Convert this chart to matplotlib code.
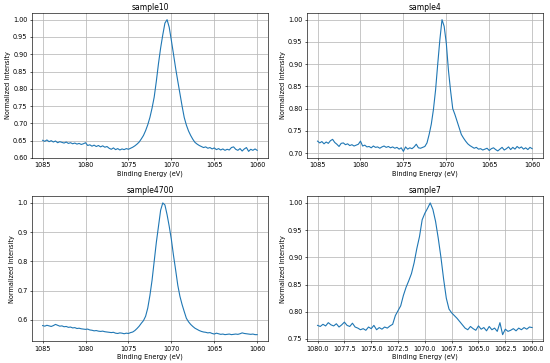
"""
Normalized XPS spectra for four samples, 2x2 grid.
Saves out.png (550x363).
"""

import numpy as np
import matplotlib
matplotlib.use("Agg")
import matplotlib.pyplot as plt
from matplotlib.ticker import MultipleLocator

# Binding energy scan grids (eV), 0.25 eV step, high -> low
energy_wide = np.arange(1085.0, 1059.99, -0.25)    # 101 points
energy_narrow = np.arange(1080.0, 1059.99, -0.25)  # 81 points

# values, rows of 2.5 eV
sample10 = [
    0.651, 0.648, 0.652, 0.647, 0.650, 0.646, 0.649, 0.644, 0.647, 0.645,
    0.643, 0.646, 0.642, 0.644, 0.641, 0.643, 0.640, 0.642, 0.639, 0.641,
    0.644, 0.636, 0.638, 0.634, 0.637, 0.633, 0.636, 0.632, 0.635, 0.631,
    0.633, 0.628, 0.625, 0.629, 0.624, 0.627, 0.623, 0.626, 0.624, 0.627,
    0.625, 0.628, 0.631, 0.635, 0.640, 0.646, 0.655, 0.665, 0.679, 0.696,
    0.717, 0.744, 0.776, 0.822, 0.873, 0.918, 0.956, 0.990, 1.000, 0.978,
    0.940, 0.900, 0.859, 0.822, 0.786, 0.750, 0.717, 0.695, 0.678, 0.665,
    0.654, 0.645, 0.640, 0.636, 0.633, 0.630, 0.632, 0.628, 0.630, 0.626,
    0.629, 0.624, 0.627, 0.623, 0.626, 0.622, 0.625, 0.623, 0.630, 0.632,
    0.625, 0.622, 0.627, 0.620, 0.626, 0.630, 0.619, 0.625, 0.622, 0.626,
    0.622,
]

sample4 = [
    0.727, 0.723, 0.726, 0.721, 0.725, 0.722, 0.728, 0.731, 0.724, 0.720,
    0.715, 0.722, 0.723, 0.719, 0.721, 0.717, 0.719, 0.716, 0.718, 0.720,
    0.727, 0.716, 0.718, 0.714, 0.715, 0.712, 0.716, 0.713, 0.714, 0.711,
    0.714, 0.716, 0.713, 0.715, 0.712, 0.714, 0.711, 0.713, 0.709, 0.712,
    0.704, 0.714, 0.709, 0.712, 0.710, 0.714, 0.720, 0.712, 0.711, 0.713,
    0.715, 0.723, 0.742, 0.765, 0.798, 0.842, 0.900, 0.955, 1.000, 0.985,
    0.947, 0.886, 0.840, 0.800, 0.787, 0.772, 0.757, 0.742, 0.734, 0.727,
    0.721, 0.717, 0.714, 0.711, 0.713, 0.709, 0.710, 0.707, 0.709, 0.711,
    0.706, 0.710, 0.712, 0.708, 0.705, 0.709, 0.713, 0.707, 0.710, 0.714,
    0.708, 0.713, 0.709, 0.715, 0.711, 0.714, 0.709, 0.712, 0.708, 0.713,
    0.710,
]

sample4700 = [
    0.580, 0.578, 0.581, 0.579, 0.577, 0.580, 0.584, 0.581, 0.578, 0.579,
    0.576, 0.577, 0.574, 0.575, 0.572, 0.573, 0.570, 0.571, 0.569, 0.568,
    0.567, 0.568, 0.565, 0.564, 0.562, 0.563, 0.561, 0.560, 0.561, 0.559,
    0.558, 0.557, 0.556, 0.557, 0.554, 0.553, 0.555, 0.554, 0.552, 0.554,
    0.553, 0.556, 0.558, 0.563, 0.570, 0.578, 0.588, 0.597, 0.612, 0.640,
    0.683, 0.735, 0.800, 0.865, 0.920, 0.975, 1.000, 0.993, 0.960, 0.920,
    0.875, 0.820, 0.770, 0.718, 0.680, 0.652, 0.628, 0.605, 0.593, 0.584,
    0.577, 0.571, 0.567, 0.563, 0.560, 0.558, 0.557, 0.555, 0.556, 0.553,
    0.551, 0.554, 0.552, 0.550, 0.551, 0.549, 0.550, 0.551, 0.549, 0.550,
    0.551, 0.550, 0.552, 0.555, 0.553, 0.552, 0.551, 0.550, 0.551, 0.549,
    0.549,
]

sample7 = [
    0.775, 0.773, 0.777, 0.774, 0.780, 0.776, 0.774, 0.778, 0.772, 0.776,
    0.781, 0.775, 0.773, 0.779, 0.772, 0.770, 0.767, 0.769, 0.766, 0.772,
    0.769, 0.775, 0.767, 0.771, 0.768, 0.772, 0.770, 0.774, 0.777, 0.793,
    0.802, 0.811, 0.830, 0.845, 0.857, 0.870, 0.890, 0.916, 0.938, 0.969,
    0.981, 0.990, 1.000, 0.988, 0.966, 0.935, 0.900, 0.860, 0.825, 0.805,
    0.798, 0.793, 0.788, 0.782, 0.776, 0.770, 0.767, 0.773, 0.769, 0.766,
    0.774, 0.768, 0.771, 0.765, 0.773, 0.767, 0.770, 0.764, 0.780, 0.758,
    0.768, 0.764, 0.766, 0.769, 0.765, 0.770, 0.767, 0.771, 0.768, 0.772,
    0.771,
]

panels = [
    ("sample10", energy_wide, sample10, 5, 0.05, "{x:.2f}"),
    ("sample4", energy_wide, sample4, 5, 0.05, "{x:.2f}"),
    ("sample4700", energy_wide, sample4700, 5, 0.1, "{x:.1f}"),
    ("sample7", energy_narrow, sample7, 2.5, 0.05, "{x:.2f}"),
]

plt.rcParams.update({
    "font.size": 4.7,
    "axes.linewidth": 0.45,
    "xtick.major.width": 0.45,
    "ytick.major.width": 0.45,
    "xtick.major.size": 1.6,
    "ytick.major.size": 1.6,
    "xtick.major.pad": 1.6,
    "ytick.major.pad": 1.6,
})

fig, axes = plt.subplots(2, 2, figsize=(5.5, 3.63), dpi=100)
fig.subplots_adjust(left=0.058, right=0.987, bottom=0.06, top=0.964,
                    wspace=0.165, hspace=0.265)

for ax, (name, x, y, xstep, ystep, yfmt) in zip(axes.flat, panels):
    ax.plot(x, y, color="#1f77b4", lw=0.8)
    ax.invert_xaxis()
    ax.xaxis.set_major_locator(MultipleLocator(xstep))
    ax.yaxis.set_major_locator(MultipleLocator(ystep))
    ax.yaxis.set_major_formatter(yfmt)
    if xstep < 5:
        ax.xaxis.set_major_formatter("{x:.1f}")
    else:
        ax.xaxis.set_major_formatter("{x:.0f}")
    ax.set_title(name, fontsize=5.5, pad=2.5)
    ax.set_xlabel("Binding Energy (eV)", labelpad=1.2)
    ax.set_ylabel("Normalized Intensity", labelpad=1.5)
    ax.grid(True, color="#b8b8b8", lw=0.55)

fig.savefig("out.png", dpi=100)
